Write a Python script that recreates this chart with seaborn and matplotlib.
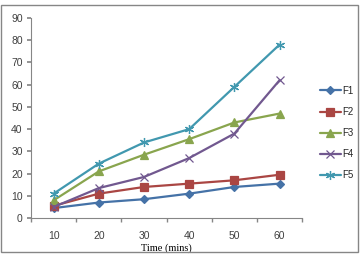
import pandas as pd
import matplotlib
matplotlib.use("Agg")
import matplotlib.pyplot as plt
from matplotlib.patches import Rectangle
import seaborn as sns

# data
times = [10, 20, 30, 40, 50, 60]
f1 = [4.5, 7, 8.5, 11, 14, 15.5]
f2 = [5.5, 11, 14, 15.5, 17, 19.5]
f3 = [8, 21, 28.5, 35.5, 43, 47]
f4 = [5, 13.5, 18.5, 27, 38, 62]
f5 = [11, 24.5, 34, 40, 59, 78]
series = ["F1", "F2", "F3", "F4", "F5"]

df = pd.DataFrame({"time": times * 5,
                   "value": f1 + f2 + f3 + f4 + f5,
                   "series": [s for s in series for _ in times]})

sns.set_theme(style="white")
plt.rcParams['font.family'] = ['Liberation Sans', 'DejaVu Sans']

palette = {"F1": "#4572A7", "F2": "#AA4643", "F3": "#89A54E",
           "F4": "#71588F", "F5": "#4198AF"}
markers = {"F1": "D", "F2": "s", "F3": "^", "F4": "x", "F5": (6, 2, 0)}
msizes = {"F1": 4, "F2": 6, "F3": 6, "F4": 5.5, "F5": 6.5}

fig = plt.figure(figsize=(3.61, 2.56), dpi=100)
ax = fig.add_axes([0.086, 0.148, 0.751, 0.782])

for s in series:
    sub = df[df.series == s]
    sns.lineplot(data=sub, x="time", y="value", ax=ax, color=palette[s],
                 marker=markers[s], markersize=msizes[s], linewidth=1.6,
                 markeredgecolor=palette[s], markeredgewidth=0.9, label=s)

ax.set_xlim(5, 65)
ax.set_ylim(0, 90)
ax.set_yticks(range(0, 91, 10))
ax.set_xticks(times)
ax.set_xticks(range(5, 66, 10), minor=True)
ax.tick_params(axis="x", which="major", length=0, labelsize=7.5, colors="#404040", pad=9.5)
ax.tick_params(axis="x", which="minor", length=3, color="#868686", direction="out", bottom=True)
ax.tick_params(axis="y", length=3, color="#868686", direction="out", left=True,
               labelsize=7.5, labelcolor="#404040", pad=3)
for side in ["top", "right"]:
    ax.spines[side].set_visible(False)
for side in ["left", "bottom"]:
    ax.spines[side].set_color("#868686")
    ax.spines[side].set_linewidth(0.8)

ax.set_ylabel("")
ax.set_xlabel("Time (mins)", family="Liberation Serif", fontsize=7.5, color="black", labelpad=1.5)

ax.legend(loc="center left", bbox_to_anchor=(0.872, 0.48), bbox_transform=fig.transFigure,
          frameon=False, fontsize=7, handlelength=2.2, handletextpad=0.1,
          labelspacing=1.15, borderpad=0)

fig.patches.append(Rectangle((0.003, 0.016), 0.989, 0.965, transform=fig.transFigure,
                             fill=False, edgecolor="#868686", linewidth=1.0))

fig.savefig("out.png", dpi=100)
